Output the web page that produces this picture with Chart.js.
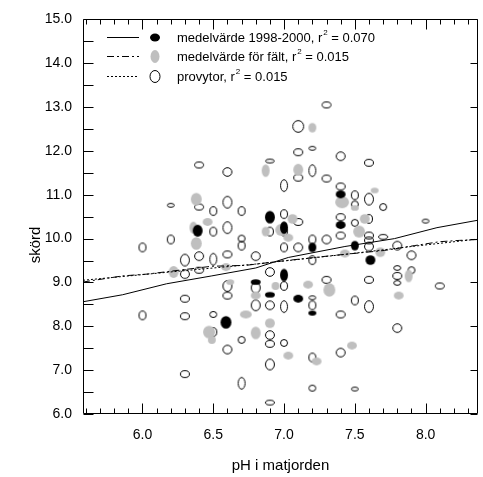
<!DOCTYPE html>
<html>
<head>
<meta charset="utf-8">
<script src="https://cdn.jsdelivr.net/npm/chart.js@4.4.1/dist/chart.umd.min.js"></script>
<style>
  html, body { margin: 0; padding: 0; background: #fff; }
</style>
</head>
<body>
<canvas id="skordChart" width="483" height="477" style="width:483px;height:477px;display:block"></canvas>
<script>
// axis ticks
const xTicks = [6.0, 6.5, 7.0, 7.5, 8.0];
const yTicks = [6, 7, 8, 9, 10, 11, 12, 13, 14, 15];

// legend texts
const seriesNames = ["medelvärde 1998-2000", "medelvärde för fält", "provytor"];
const r2Values = ["0.070", "0.015", "0.015"];

// medelvärde 1998-2000 (black), ellipse width in pH, height in skörd
const blackPh = [6.39, 6.90, 7.00, 7.40, 7.40, 7.20, 7.50, 7.61, 7.00, 6.80, 6.90, 7.10, 7.20, 6.59];
const blackYield = [10.18, 10.49, 10.25, 11.01, 10.31, 9.80, 9.84, 9.51, 9.17, 9.01, 8.72, 8.63, 8.30, 8.09];
const blackW = [.07, .07, .056, .07, .07, .056, .056, .07, .056, .07, .07, .07, .056, .077];
const blackH = [.27, .29, .29, .18, .18, .22, .22, .22, .29, .13, .13, .18, .11, .29];

// medelvärde för fält (grey)
const greyPh = [7.20, 6.87, 7.10, 6.38, 6.46, 6.36, 6.38, 6.87, 7.06, 6.98, 7.03, 7.41, 7.64, 7.50, 7.57, 7.53, 7.43, 7.68,
  6.22, 6.59, 6.62, 6.94, 6.80, 6.73, 6.90, 6.47, 6.49, 6.80, 7.17, 7.32, 7.88, 7.81, 7.03, 7.23, 7.48];
const greyYield = [12.53, 11.55, 11.57, 10.90, 10.38, 10.25, 9.89, 10.16, 10.45, 10.20, 10.02, 10.83, 11.10, 10.70, 10.45, 10.16, 9.66, 9.69,
  9.24, 9.35, 9.01, 8.92, 8.70, 8.27, 8.07, 7.87, 7.69, 7.85, 8.95, 8.83, 9.15, 8.70, 7.33, 7.20, 7.56];
const greyW = [.056, .056, .07, .077, .07, .056, .077, .056, .07, .084, .07, .098, .056, .056, .07, .084, .07, .07,
  .07, .07, .056, .056, .07, .084, .07, .084, .056, .07, .07, .084, .056, .07, .07, .07, .07];
const greyH = [.22, .29, .27, .29, .18, .27, .29, .22, .22, .27, .18, .27, .13, .13, .22, .27, .18, .22,
  .27, .18, .13, .18, .18, .18, .22, .29, .18, .29, .18, .31, .29, .18, .18, .18, .18];

// provytor (open)
const openPh = [7.3, 7.1, 7.1, 7.2, 7.4, 7.6, 6.4, 6.6, 6.9, 7.1,
  7.2, 7.3, 7.0, 7.4, 7.5, 7.5, 7.6, 7.7, 6.2, 6.4,
  6.5, 6.6, 6.7, 7.0, 7.1, 7.4, 7.6, 7.5, 8.0, 6.5,
  6.6, 6.9, 7.0, 7.4, 7.6, 7.6, 7.7, 6.2, 6.0, 6.7,
  6.7, 7.0, 7.1, 7.2, 7.3, 7.6, 7.8, 7.9, 6.4, 6.6,
  6.8, 6.3, 6.5, 7.2, 6.4, 6.3, 6.9, 7.8, 7.8, 7.8,
  7.9, 6.6, 6.6, 6.8, 7.0, 7.3, 7.6, 8.1, 6.3, 7.2,
  7.2, 7.0, 7.5, 7.6, 6.8, 6.9, 6.0, 6.3, 6.5, 7.4,
  6.5, 6.9, 6.9, 6.7, 7.8, 7.0, 6.6, 7.4, 7.2, 6.9,
  6.3, 6.7, 7.2, 7.5, 6.9];
const openYield = [13.05, 12.56, 11.97, 12.06, 11.88, 11.73, 11.68, 11.52, 11.77, 11.39,
  11.55, 11.37, 11.21, 11.19, 10.99, 10.78, 10.90, 10.72, 10.76, 10.72,
  10.63, 10.83, 10.63, 10.56, 10.38, 10.49, 10.45, 10.36, 10.40, 10.16,
  10.25, 10.16, 10.16, 10.07, 10.07, 9.96, 10.04, 9.98, 9.80, 10.00,
  9.84, 9.80, 9.80, 9.98, 9.98, 9.82, 9.84, 9.62, 9.60, 9.64,
  9.60, 9.51, 9.53, 9.51, 9.28, 9.19, 9.24, 9.33, 9.15, 8.99,
  9.28, 8.92, 8.70, 8.88, 8.92, 9.06, 9.06, 8.92, 8.63, 8.65,
  8.48, 8.45, 8.59, 8.45, 8.48, 8.48, 8.25, 8.23, 8.27, 8.27,
  7.87, 7.80, 7.60, 7.69, 7.96, 7.62, 7.47, 7.40, 7.29, 7.13,
  6.91, 6.70, 6.59, 6.57, 6.26];
const openW = [.07, .084, .07, .056, .07, .07, .07, .07, .07, .07,
  .056, .07, .056, .07, .056, .056, .07, .056, .056, .07,
  .056, .07, .056, .056, .07, .07, .056, .056, .056, .056,
  .07, .056, .056, .07, .07, .07, .07, .056, .056, .056,
  .056, .056, .07, .056, .07, .07, .07, .07, .07, .07,
  .07, .07, .056, .056, .07, .07, .07, .056, .07, .056,
  .056, .07, .07, .07, .056, .07, .07, .07, .07, .056,
  .056, .056, .056, .07, .07, .07, .056, .07, .056, .07,
  .056, .07, .07, .056, .07, .056, .07, .07, .056, .07,
  .07, .056, .056, .056, .07];
const openH = [.16, .29, .18, .11, .22, .18, .16, .22, .11, .18,
  .29, .18, .29, .18, .22, .18, .29, .18, .11, .16,
  .22, .29, .22, .22, .18, .18, .22, .18, .11, .22,
  .29, .22, .22, .18, .18, .18, .13, .22, .22, .18,
  .22, .22, .22, .22, .22, .22, .22, .22, .22, .18,
  .22, .29, .29, .22, .16, .22, .22, .13, .18, .13,
  .18, .27, .18, .27, .22, .18, .18, .16, .18, .11,
  .22, .29, .22, .29, .27, .22, .22, .18, .16, .18,
  .22, .22, .18, .18, .22, .18, .22, .22, .22, .27,
  .18, .29, .16, .11, .13];

// regression lines
const fitMeanX = [5.58, 5.86, 6.17, 6.49, 6.80, 7.03, 7.43, 7.78, 8.08, 8.37];
const fitMeanY = [8.56, 8.72, 8.97, 9.15, 9.33, 9.57, 9.82, 10.00, 10.25, 10.42];
const fitFieldX = [5.58, 5.86, 6.03, 6.26, 6.49, 6.73, 6.96, 7.36, 7.71, 7.92, 8.10, 8.24, 8.37];
const fitFieldY = [9.01, 9.15, 9.19, 9.28, 9.37, 9.39, 9.48, 9.62, 9.73, 9.84, 9.93, 9.96, 9.98];
const fitPlotX = [5.58, 6.20, 6.80, 7.40, 7.90, 8.37];
const fitPlotY = [9.05, 9.24, 9.42, 9.63, 9.82, 9.99];

const FONT = '"Liberation Sans", Arial, sans-serif';
const GREY = "#bfbfbf";

function toPoints(xs, ys, ws, hs) {
  return xs.map((x, i) => ({ x: x, y: ys[i], w: ws ? ws[i] : 0, h: hs ? hs[i] : 0 }));
}

// ellipse marker whose size follows the point's spread in data units
function ellipseStyle(fill, stroke) {
  return (c) => {
    const p = c.raw;
    const s = c.chart.scales;
    if (!p || !s.x || !s.y) return "circle";
    const pw = Math.abs(s.x.getPixelForValue(p.x + p.w / 2) - s.x.getPixelForValue(p.x - p.w / 2));
    const ph = Math.abs(s.y.getPixelForValue(p.y + p.h / 2) - s.y.getPixelForValue(p.y - p.h / 2));
    const cv = document.createElement("canvas");
    cv.width = Math.round(pw) + 2;
    cv.height = Math.round(ph) + 2;
    const g = cv.getContext("2d");
    g.beginPath();
    const inset = stroke ? 0.5 : 0;
    g.ellipse(cv.width / 2, cv.height / 2, pw / 2 - inset, ph / 2 - inset, 0, 0, Math.PI * 2);
    if (fill) { g.fillStyle = fill; g.fill(); }
    if (stroke) { g.strokeStyle = stroke; g.lineWidth = 1; g.stroke(); }
    return cv;
  };
}

function lineSet(xs, ys, dash) {
  return {
    data: toPoints(xs, ys),
    showLine: true,
    borderColor: "#000",
    borderWidth: 1,
    borderDash: dash,
    pointRadius: 0,
    fill: false,
  };
}

function markerSet(xs, ys, ws, hs, fill, stroke) {
  return {
    data: toPoints(xs, ys, ws, hs),
    showLine: false,
    pointRadius: 3,
    pointStyle: ellipseStyle(fill, stroke),
    backgroundColor: fill || "transparent",
    borderColor: stroke || "transparent",
  };
}

// frame with inward ticks on all four sides
const frame = {
  id: "frame",
  afterDatasetsDraw(chart) {
    const { ctx, chartArea: a, scales } = chart;
    const x = scales.x, y = scales.y;
    const L = Math.round(a.left) + 0.5, R = Math.round(a.right) - 0.5;
    const T = Math.round(a.top) + 0.5, B = Math.round(a.bottom) - 0.5;
    ctx.save();
    ctx.strokeStyle = "#000";
    ctx.lineWidth = 1;
    ctx.beginPath();
    ctx.rect(L, T, R - L, B - T);
    for (let v = Math.ceil(x.min * 10); v <= Math.floor(x.max * 10); v++) {
      const px = Math.round(x.getPixelForValue(v / 10)) + 0.5;
      const len = v % 5 === 0 ? 10 : 5;
      ctx.moveTo(px, B); ctx.lineTo(px, B - len);
      ctx.moveTo(px, T); ctx.lineTo(px, T + len);
    }
    for (let v = y.min * 2; v <= y.max * 2; v++) {
      const py = Math.round(y.getPixelForValue(v / 2)) + 0.5;
      ctx.moveTo(L, py); ctx.lineTo(L + 10, py);
      if (v % 2 === 0) { ctx.moveTo(R, py); ctx.lineTo(R - 7, py); }
    }
    ctx.stroke();
    ctx.restore();
  },
};

// legend box in the upper left and the rotated y title
const legendBox = {
  id: "legendBox",
  afterDraw(chart) {
    const ctx = chart.ctx;
    const rows = [
      { y: 37, dash: [], fill: "#000", stroke: null, ew: 10, eh: 8 },
      { y: 56, dash: [7, 3, 2, 3], fill: GREY, stroke: null, ew: 9, eh: 13 },
      { y: 76, dash: [2, 2], fill: null, stroke: "#000", ew: 10, eh: 12 },
    ];
    ctx.save();
    rows.forEach((r, i) => {
      ctx.beginPath();
      ctx.setLineDash(r.dash);
      ctx.strokeStyle = "#000";
      ctx.lineWidth = 1;
      ctx.moveTo(107, r.y + 0.5);
      ctx.lineTo(139, r.y + 0.5);
      ctx.stroke();
      ctx.setLineDash([]);
      ctx.beginPath();
      ctx.ellipse(155, r.y + 0.5, r.ew / 2, r.eh / 2, 0, 0, Math.PI * 2);
      if (r.fill) { ctx.fillStyle = r.fill; ctx.fill(); }
      if (r.stroke) { ctx.stroke(); }

      ctx.fillStyle = "#000";
      ctx.textBaseline = "middle";
      ctx.textAlign = "left";
      ctx.font = "13px " + FONT;
      let tx = 177;
      const head = seriesNames[i] + ", r";
      ctx.fillText(head, tx, r.y + 1);
      tx += ctx.measureText(head).width;
      ctx.font = "8px " + FONT;
      ctx.fillText("2", tx + 1, r.y - 4);
      tx += ctx.measureText("2").width + 1;
      ctx.font = "13px " + FONT;
      ctx.fillText(" = " + r2Values[i], tx, r.y + 1);
    });

    ctx.translate(36, 245);
    ctx.rotate(-Math.PI / 2);
    ctx.font = "15px " + FONT;
    ctx.textAlign = "center";
    ctx.textBaseline = "middle";
    ctx.fillText("skörd", 0, 0);
    ctx.restore();
  },
};

new Chart(document.getElementById("skordChart"), {
  type: "scatter",
  data: {
    datasets: [
      lineSet(fitMeanX, fitMeanY, []),
      lineSet(fitFieldX, fitFieldY, [7, 3, 2, 3]),
      lineSet(fitPlotX, fitPlotY, [2, 2]),
      markerSet(blackPh, blackYield, blackW, blackH, "#000", null),
      markerSet(greyPh, greyYield, greyW, greyH, GREY, null),
      markerSet(openPh, openYield, openW, openH, null, "#000"),
    ],
  },
  options: {
    responsive: false,
    devicePixelRatio: 1,
    animation: false,
    events: [],
    layout: { padding: { top: 12, right: 1, left: 0, bottom: 0 } },
    plugins: { legend: { display: false }, tooltip: { enabled: false } },
    scales: {
      x: {
        type: "linear",
        min: 5.58,
        max: 8.37,
        grid: { display: false, drawTicks: false },
        border: { display: false },
        afterBuildTicks: (s) => { s.ticks = xTicks.map((v) => ({ value: v })); },
        afterFit: (s) => { s.height = 63; },
        ticks: {
          autoSkip: false,
          maxRotation: 0,
          padding: 13,
          color: "#000",
          font: { family: FONT, size: 14 },
          callback: (v) => Number(v).toFixed(1),
        },
        title: {
          display: true,
          text: "pH i matjorden",
          color: "#000",
          font: { family: FONT, size: 15 },
          padding: { top: 0, bottom: 2 },
        },
      },
      y: {
        type: "linear",
        min: 6,
        max: 15,
        grid: { display: false, drawTicks: false },
        border: { display: false },
        afterBuildTicks: (s) => { s.ticks = yTicks.map((v) => ({ value: v })); },
        afterFit: (s) => { s.width = 83; },
        ticks: {
          autoSkip: false,
          padding: 11,
          color: "#000",
          font: { family: FONT, size: 14 },
          callback: (v) => Number(v).toFixed(1),
        },
      },
    },
  },
  plugins: [frame, legendBox],
});
</script>
</body>
</html>
